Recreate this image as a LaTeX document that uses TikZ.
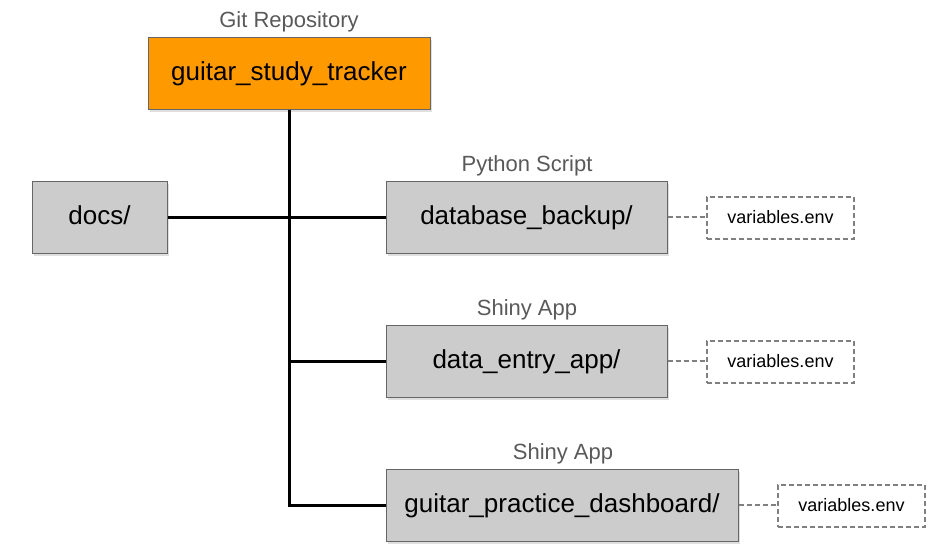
\documentclass[tikz,border=0pt]{standalone}
\usepackage{fontspec}
\setmainfont{Liberation Sans}
\usetikzlibrary{shadows}
\definecolor{repoorange}{HTML}{FF9900}
\definecolor{boxgray}{HTML}{CCCCCC}
\definecolor{edgegray}{HTML}{666666}
\definecolor{labelgray}{HTML}{595959}
\definecolor{dashgray}{HTML}{808080}
\tikzset{
  folder/.style={draw=edgegray, line width=1pt, fill=boxgray, minimum height=72pt,
    inner sep=0pt, font=\fontsize{26}{30}\selectfont, text height=18pt, text depth=3pt,
    drop shadow={opacity=0.25, shadow xshift=1.5pt, shadow yshift=-2.5pt}},
  repobox/.style={folder, fill=repoorange},
  envbox/.style={draw=dashgray, dash pattern=on 5pt off 3pt, line width=1.2pt, fill=white, minimum width=147pt,
    minimum height=42pt, inner sep=0pt, font=\fontsize{18}{20}\selectfont, text height=13pt, text depth=2pt},
  kindlabel/.style={text=labelgray, font=\fontsize{22}{24}\selectfont, inner sep=0pt},
  trunk/.style={line width=3pt, black},
  envlink/.style={draw=dashgray, dash pattern=on 5pt off 3pt, line width=1.2pt}
}
\begin{document}
\begin{tikzpicture}[x=1pt,y=-1pt]
\useasboundingbox (0,0) rectangle (943,558);
% boxes
\node[repobox, minimum width=282pt] (repo) at (289,73) {guitar\_study\_tracker};
\node[folder, minimum width=135pt] (docs) at (99.5,217) {docs/};
\node[folder, minimum width=281pt] (db) at (526.5,217) {database\_backup/};
\node[folder, minimum width=281pt] (entry) at (526.5,361) {data\_entry\_app/};
\node[folder, minimum width=352pt] (dash) at (562,505) {guitar\_practice\_dashboard/};
% env files
\node[envbox] (env1) at (780.5,218) {variables.env};
\node[envbox] (env2) at (780.5,362) {variables.env};
\node[envbox] (env3) at (851.5,506) {variables.env};
% kind labels
\node[kindlabel] (lrepo) at (289,22) {Git Repository};
\node[kindlabel] (ldb) at (527,166) {Python Script};
\node[kindlabel] (lentry) at (527,310) {Shiny App};
\node[kindlabel] (ldash) at (563,454) {Shiny App};
% connectors
\draw[trunk] (repo.south) -- (repo.south |- dash.west) -- (dash.west);
\draw[trunk] (docs.east) -- (db.west);
\draw[trunk] (repo.south |- entry.west) -- (entry.west);
\draw[envlink] (db.east) -- (db.east -| env1.west);
\draw[envlink] (entry.east) -- (entry.east -| env2.west);
\draw[envlink] (dash.east) -- (dash.east -| env3.west);
\end{tikzpicture}
\end{document}
